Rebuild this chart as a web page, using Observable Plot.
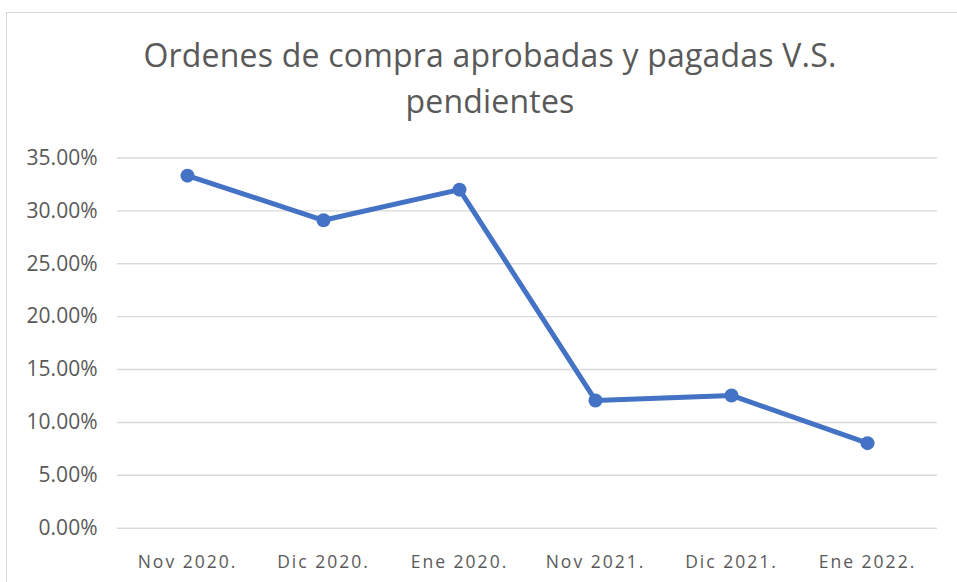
<!DOCTYPE html>
<html>
<head>
<meta charset="utf-8">
<script src="https://cdn.jsdelivr.net/npm/d3@7"></script>
<script src="https://cdn.jsdelivr.net/npm/@observablehq/plot@0.6"></script>
<style>
  html, body { margin: 0; padding: 0; background: #fff; }
  body { width: 957px; height: 582px; position: relative; overflow: hidden; font-family: "Open Sans", sans-serif; }
  #frame { position: absolute; left: 6px; top: 12px; width: 966px; height: 620px; border: 1px solid #d9d9d9; box-sizing: border-box; }
  #title { position: absolute; left: 90px; width: 800px; top: 32.3px; text-align: center; font-size: 32px; line-height: 46px; color: #595959; letter-spacing: 0.2px; white-space: nowrap; }
  #chart { position: absolute; left: 0; top: 0; }
  #chart [aria-label="x-axis tick label"] text { letter-spacing: 2px; }
</style>
</head>
<body>
<div id="frame"></div>
<div id="title">Ordenes de compra aprobadas y pagadas V.S.<br>pendientes</div>
<div id="chart"></div>
<script>
const categories = ["Nov 2020.", "Dic 2020.", "Ene 2020.", "Nov 2021.", "Dic 2021.", "Ene 2022."];
const values = [0.3333, 0.2911, 0.3201, 0.1208, 0.1255, 0.0804];
const yTicks = [0, 0.05, 0.10, 0.15, 0.20, 0.25, 0.30, 0.35];

const data = categories.map((c, i) => ({category: c, value: values[i]}));

const chart = Plot.plot({
  width: 957,
  height: 582,
  marginLeft: 117,
  marginRight: 20,
  marginTop: 157.5,
  marginBottom: 54.3,
  style: {fontFamily: "Open Sans", background: "transparent", overflow: "visible"},
  x: {type: "point", domain: categories, padding: 0.5},
  y: {domain: [0, 0.35]},
  marks: [
    Plot.gridY(yTicks, {stroke: "#d9d9d9", strokeOpacity: 1, strokeWidth: 1.4}),
    Plot.axisY(yTicks, {tickFormat: d3.format(".2%"), tickSize: 0, tickPadding: 20, fontSize: 21, color: "#595959", label: null}),
    Plot.axisX({tickSize: 0, tickPadding: 27, fontSize: 17.5, color: "#595959", label: null}),
    Plot.line(data, {x: "category", y: "value", stroke: "#4472C4", strokeWidth: 5}),
    Plot.dot(data, {x: "category", y: "value", r: 7, fill: "#4472C4", stroke: "none"})
  ]
});
document.getElementById("chart").appendChild(chart);
</script>
</body>
</html>
